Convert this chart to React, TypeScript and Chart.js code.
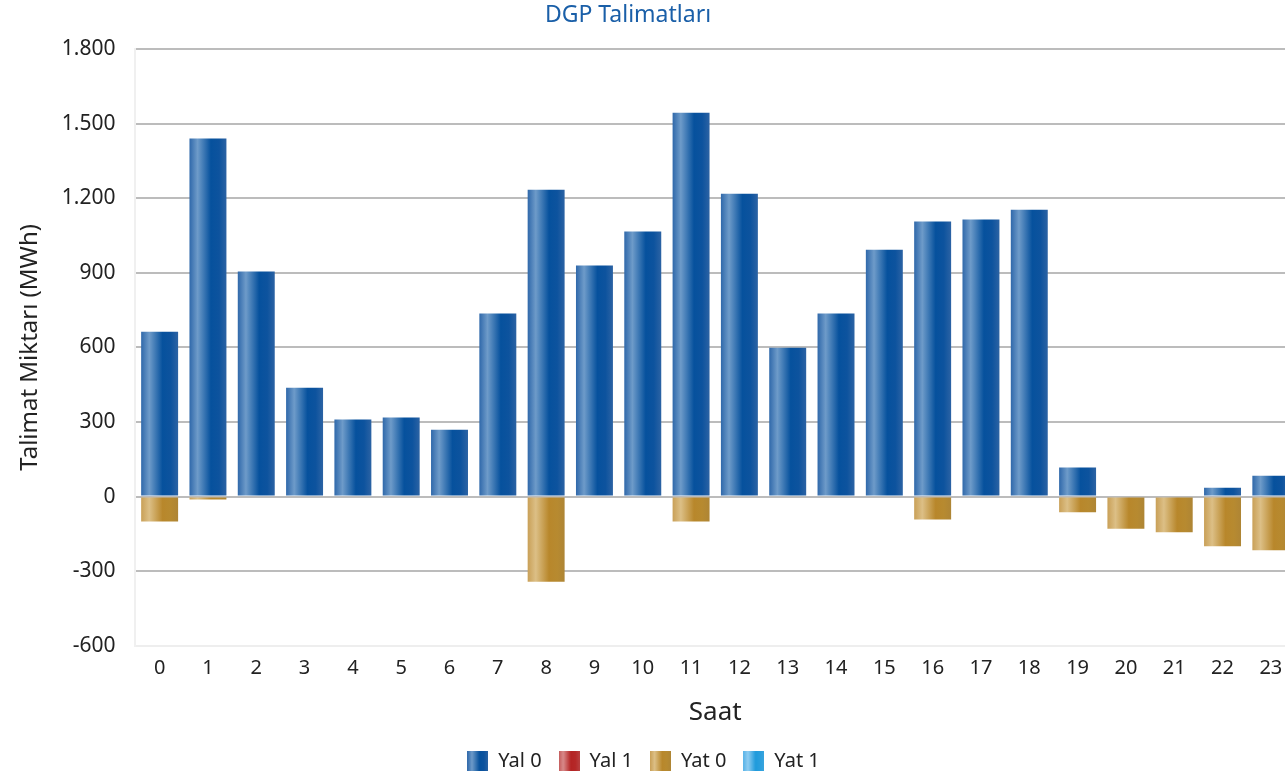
import React, { useEffect, useRef } from "react";
import { Chart, registerables } from "chart.js";

Chart.register(...registerables);

const hours: string[] = ["0","1","2","3","4","5","6","7","8","9","10","11","12","13","14","15","16","17","18","19","20","21","22","23"];
const yal0: number[] = [663,1440,905,438,310,318,269,736,1234,929,1066,1544,1218,599,736,993,1106,1114,1154,117,0,0,36,84];
const yal1: (number | null)[] = hours.map(() => null);
const yat0: number[] = [-100,-12,0,0,0,0,0,0,-342,0,0,-100,0,0,0,0,-92,0,0,-63,-129,-143,-200,-216];
const yat1: (number | null)[] = hours.map(() => null);
const seriesNames: string[] = ["Yal 0", "Yal 1", "Yat 0", "Yat 1"];
const yTicks = { min: -600, max: 1800, step: 300 };

const FONT = "'Noto Sans', 'Open Sans', sans-serif";
const BAR_FRACTION = 0.85 * 0.9;

// gradient stops: [offset, color]
const palettes: [number, string][][] = [
  [[0, "#2f68aa"], [0.22, "#6e9bc9"], [0.58, "#06519d"], [0.8, "#0d539e"], [1, "#2c63a4"]],
  [[0, "#c45a5a"], [0.22, "#d88a8a"], [0.58, "#b42424"], [0.8, "#b52828"], [1, "#b84040"]],
  [[0, "#c9a057"], [0.22, "#dcbf86"], [0.58, "#b8872b"], [0.8, "#b78a30"], [1, "#ae8535"]],
  [[0, "#5ab4e8"], [0.22, "#8fcdf2"], [0.58, "#1f9bdc"], [0.8, "#2a9fdd"], [1, "#3aa4dd"]],
];
const solids = ["#0a519c", "#b42424", "#b8872b", "#1f9bdc"];

function makeLegendImage(stops: [number, string][]): HTMLCanvasElement {
  const c = document.createElement("canvas");
  c.width = 21;
  c.height = 20;
  const g = c.getContext("2d")!;
  const grad = g.createLinearGradient(0, 0, 21, 0);
  stops.forEach(([o, col]) => grad.addColorStop(o, col));
  g.fillStyle = grad;
  g.fillRect(0, 0, 21, 20);
  return c;
}

function barGradient(index: number) {
  return (ctx: any) => {
    const chart = ctx.chart;
    const xs = chart.scales?.x;
    if (!xs || ctx.type !== "data") return solids[index];
    const cx = xs.getPixelForValue(ctx.dataIndex);
    const w = (xs.width / hours.length) * BAR_FRACTION;
    if (!isFinite(cx) || !isFinite(w) || w <= 0) return solids[index];
    const g = chart.ctx.createLinearGradient(cx - w / 2, 0, cx + w / 2, 0);
    palettes[index].forEach(([o, col]) => g.addColorStop(o, col));
    return g;
  };
}

function formatTr(v: number): string {
  const s = Math.abs(v).toString().replace(/\B(?=(\d{3})+(?!\d))/g, ".");
  return (v < 0 ? "-" : "") + s;
}

const blockShift = {
  id: "blockShift",
  afterLayout(chart: any) {
    const tb = chart.titleBlock;
    if (tb) tb.right -= 39;
    const lg = chart.legend;
    if (lg) lg.right -= 8;
  },
};

export default function App() {
  const ref = useRef<HTMLCanvasElement | null>(null);

  useEffect(() => {
    if (!ref.current) return;
    const legendImgs = palettes.map(makeLegendImage);
    const seriesData = [yal0, yal1, yat0, yat1];
    const chart = new Chart(ref.current, {
      type: "bar",
      data: {
        labels: hours,
        datasets: seriesNames.map((name, i) => ({
          label: name,
          data: seriesData[i] as any,
          backgroundColor: barGradient(i) as any,
          borderWidth: 0,
          stack: "s",
          categoryPercentage: 0.85,
          barPercentage: 0.9,
        })),
      },
      options: {
        animation: false,
        responsive: false,
        layout: { padding: { right: 0, left: 0, bottom: -6, top: 0 } },
        plugins: {
          title: {
            display: true,
            text: "DGP Talimatları",
            color: "#1a5fa8",
            font: { family: FONT, size: 23, weight: "normal" },
            padding: { top: 2, bottom: 19.4 },
          },
          legend: {
            position: "bottom",
            labels: {
              font: { family: FONT, size: 20 },
              color: "#222",
              usePointStyle: true,
              pointStyleWidth: 21,
              boxHeight: 20,
              padding: 17,
              generateLabels: (chart: any) =>
                chart.data.datasets.map((ds: any, i: number) => ({
                  text: ds.label,
                  fillStyle: solids[i],
                  strokeStyle: "rgba(0,0,0,0)",
                  lineWidth: 0,
                  pointStyle: legendImgs[i],
                  hidden: !chart.isDatasetVisible(i),
                  datasetIndex: i,
                  fontColor: "#222",
                })),
            },
          },
          tooltip: { enabled: false },
        },
        scales: {
          x: {
            stacked: true,
            grid: { display: false, drawTicks: false },
            border: { display: true, color: "#eeeeee", width: 2 },
            ticks: { color: "#222", font: { family: FONT, size: 20 }, padding: 10, maxRotation: 0, autoSkip: false },
            title: {
              display: true,
              text: "Saat",
              color: "#222",
              font: { family: FONT, size: 26 },
              padding: { top: 7, bottom: 6 },
            },
          },
          y: {
            stacked: true,
            min: yTicks.min,
            max: yTicks.max,
            grid: {
              color: (c: any) => (c.tick && c.tick.value === yTicks.min ? "rgba(0,0,0,0)" : "#bcbcbc"),
              lineWidth: 2,
              drawTicks: false,
            },
            border: { display: true, color: "#f0f0f0", width: 2 },
            ticks: {
              stepSize: yTicks.step,
              color: "#222",
              font: { family: FONT, size: 21 },
              padding: 20,
              callback: (v: any) => formatTr(Number(v)),
            },
            title: {
              display: true,
              text: "Talimat Miktarı (MWh)",
              color: "#222",
              font: { family: FONT, size: 24 },
              padding: { top: 16, bottom: -3 },
            },
          },
        },
      },
      plugins: [blockShift],
    });
    return () => chart.destroy();
  }, []);

  return (
    <div style={{ position: "absolute", left: 0, top: 0, width: 1285, height: 775, background: "#fff", overflow: "hidden" }}>
      <canvas ref={ref} width={1295} height={775} style={{ display: "block" }} />
    </div>
  );
}
